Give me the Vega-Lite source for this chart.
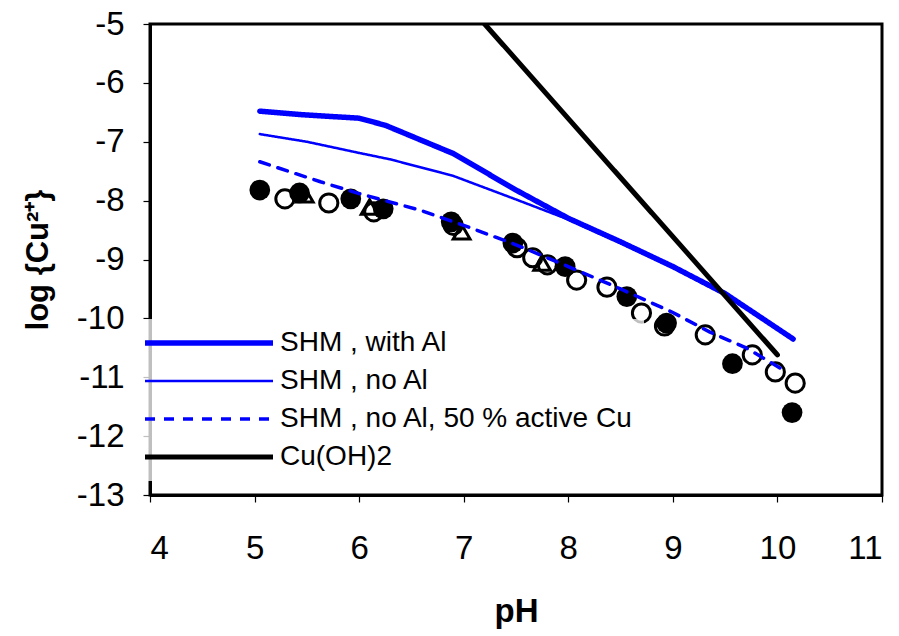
{
  "$schema": "https://vega.github.io/schema/vega-lite/v6.json",
  "width": 732,
  "height": 471,
  "padding": {"left": 150, "top": 24, "right": 17, "bottom": 141},
  "autosize": {"type": "none"},
  "background": "white",
  "config": {
    "view": {"stroke": "black", "strokeWidth": 3},
    "font": "Liberation Sans",
    "axis": {
      "grid": false,
      "domainColor": "black",
      "domainWidth": 3,
      "tickColor": "black",
      "tickWidth": 1.2,
      "tickSize": 7,
      "labelFont": "Liberation Sans",
      "labelFontSize": 33,
      "labelColor": "black",
      "titleFont": "Liberation Sans",
      "titleFontWeight": "bold",
      "titleColor": "black"
    }
  },
  "datasets": {
    "lines": [
      {"series": "SHM , with Al", "pH": 5.05, "logCu": -6.48},
      {"series": "SHM , with Al", "pH": 5.45, "logCu": -6.54},
      {"series": "SHM , with Al", "pH": 6.0, "logCu": -6.6},
      {"series": "SHM , with Al", "pH": 6.25, "logCu": -6.72},
      {"series": "SHM , with Al", "pH": 6.9, "logCu": -7.2},
      {"series": "SHM , with Al", "pH": 7.5, "logCu": -7.82},
      {"series": "SHM , with Al", "pH": 8.0, "logCu": -8.3},
      {"series": "SHM , with Al", "pH": 8.5, "logCu": -8.7},
      {"series": "SHM , with Al", "pH": 9.0, "logCu": -9.12},
      {"series": "SHM , with Al", "pH": 9.5, "logCu": -9.58},
      {"series": "SHM , with Al", "pH": 10.15, "logCu": -10.35},
      {"series": "SHM , no Al", "pH": 5.05, "logCu": -6.87},
      {"series": "SHM , no Al", "pH": 5.5, "logCu": -7.0},
      {"series": "SHM , no Al", "pH": 6.0, "logCu": -7.19},
      {"series": "SHM , no Al", "pH": 6.3, "logCu": -7.3},
      {"series": "SHM , no Al", "pH": 6.9, "logCu": -7.58},
      {"series": "SHM , no Al", "pH": 7.5, "logCu": -7.98},
      {"series": "SHM , no Al", "pH": 8.0, "logCu": -8.32},
      {"series": "SHM , no Al", "pH": 8.5, "logCu": -8.72},
      {"series": "SHM , no Al", "pH": 9.0, "logCu": -9.14},
      {"series": "SHM , no Al", "pH": 9.5, "logCu": -9.6},
      {"series": "SHM , no Al", "pH": 10.15, "logCu": -10.35},
      {"series": "SHM , no Al, 50 % active Cu", "pH": 5.05, "logCu": -7.34},
      {"series": "SHM , no Al, 50 % active Cu", "pH": 5.63, "logCu": -7.68},
      {"series": "SHM , no Al, 50 % active Cu", "pH": 6.0, "logCu": -7.88},
      {"series": "SHM , no Al, 50 % active Cu", "pH": 6.58, "logCu": -8.16},
      {"series": "SHM , no Al, 50 % active Cu", "pH": 7.0, "logCu": -8.42},
      {"series": "SHM , no Al, 50 % active Cu", "pH": 7.5, "logCu": -8.75},
      {"series": "SHM , no Al, 50 % active Cu", "pH": 8.0, "logCu": -9.12},
      {"series": "SHM , no Al, 50 % active Cu", "pH": 8.5, "logCu": -9.5},
      {"series": "SHM , no Al, 50 % active Cu", "pH": 9.0, "logCu": -9.9},
      {"series": "SHM , no Al, 50 % active Cu", "pH": 9.35, "logCu": -10.23},
      {"series": "SHM , no Al, 50 % active Cu", "pH": 9.7, "logCu": -10.5},
      {"series": "SHM , no Al, 50 % active Cu", "pH": 10.05, "logCu": -10.87},
      {"series": "Cu(OH)2", "pH": 7.2, "logCu": -5.0},
      {"series": "Cu(OH)2", "pH": 10.0, "logCu": -10.62}
    ],
    "filled": [
      {"pH": 5.05, "logCu": -7.82},
      {"pH": 5.43, "logCu": -7.87},
      {"pH": 5.92, "logCu": -7.97},
      {"pH": 6.23, "logCu": -8.14},
      {"pH": 6.88, "logCu": -8.36},
      {"pH": 7.47, "logCu": -8.72},
      {"pH": 7.97, "logCu": -9.12},
      {"pH": 8.56, "logCu": -9.63},
      {"pH": 8.94, "logCu": -10.08},
      {"pH": 9.57, "logCu": -10.77},
      {"pH": 10.14, "logCu": -11.6}
    ],
    "open": [
      {"pH": 5.29, "logCu": -7.97},
      {"pH": 5.71, "logCu": -8.04},
      {"pH": 6.14, "logCu": -8.19},
      {"pH": 6.9, "logCu": -8.42},
      {"pH": 7.51, "logCu": -8.8},
      {"pH": 7.66, "logCu": -8.97},
      {"pH": 7.8, "logCu": -9.09},
      {"pH": 8.08, "logCu": -9.35},
      {"pH": 8.37, "logCu": -9.47},
      {"pH": 8.7, "logCu": -9.91},
      {"pH": 8.92, "logCu": -10.13},
      {"pH": 9.31, "logCu": -10.28},
      {"pH": 9.76, "logCu": -10.62},
      {"pH": 9.98, "logCu": -10.91},
      {"pH": 10.17, "logCu": -11.1}
    ],
    "triangles": [
      {"pH": 5.48, "logCu": -7.9},
      {"pH": 6.1, "logCu": -8.11},
      {"pH": 6.98, "logCu": -8.53},
      {"pH": 7.75, "logCu": -9.06}
    ]
  },
  "encoding": {
    "x": {
      "field": "pH", "type": "quantitative",
      "scale": {"domain": [4, 11], "nice": false, "zero": false},
      "axis": {"values": [4, 5, 6, 7, 8, 9, 10, 11], "labelPadding": 30, "title": "pH", "titleFontSize": 33, "titlePadding": 30}
    },
    "y": {
      "field": "logCu", "type": "quantitative",
      "scale": {"domain": [-13, -5], "nice": false, "zero": false},
      "axis": {"values": [-5, -6, -7, -8, -9, -10, -11, -12, -13], "labelPadding": 19, "labelExpr": "replace(datum.label, '−', '-')", "title": "log {Cu²⁺}", "titleFontSize": 31, "titlePadding": 22}
    }
  },
  "layer": [
    {
      "data": {"name": "open"},
      "mark": {"type": "point", "shape": "circle", "filled": false, "size": 330, "stroke": "black", "strokeWidth": 3, "opacity": 1}
    },
    {
      "data": {"name": "triangles"},
      "mark": {"type": "point", "shape": "triangle-up", "filled": false, "size": 280, "stroke": "black", "strokeWidth": 3, "opacity": 1}
    },
    {
      "data": {"name": "filled"},
      "mark": {"type": "point", "shape": "circle", "filled": true, "size": 430, "color": "black", "opacity": 1}
    },
    {
      "data": {"name": "lines"},
      "mark": {"type": "line", "strokeCap": "round", "clip": true},
      "encoding": {
        "detail": {"field": "series"},
        "color": {
          "field": "series", "type": "nominal",
          "scale": {"domain": ["SHM , with Al", "SHM , no Al", "SHM , no Al, 50 % active Cu", "Cu(OH)2"], "range": ["#0000ff", "#0000ff", "#0000ff", "black"]},
          "legend": {
            "orient": "none", "legendX": -18, "legendY": 295, "title": null,
            "symbolType": "stroke", "symbolSize": 16384, "clipHeight": 28,
            "labelFontSize": 28, "labelColor": "black", "labelFont": "Liberation Sans", "labelOffset": 4, "labelLimit": 500,
            "rowPadding": 10, "fillColor": "rgba(255,255,255,0.75)", "padding": 10
          }
        },
        "strokeWidth": {
          "field": "series", "type": "nominal",
          "scale": {"type": "ordinal", "domain": ["SHM , with Al", "SHM , no Al", "SHM , no Al, 50 % active Cu", "Cu(OH)2"], "range": [5.5, 2.5, 3.5, 5]}
        },
        "strokeDash": {
          "field": "series", "type": "nominal",
          "scale": {"domain": ["SHM , with Al", "SHM , no Al", "SHM , no Al, 50 % active Cu", "Cu(OH)2"], "range": [[1, 0], [1, 0], [10, 9], [1, 0]]}
        }
      }
    }
  ]
}
